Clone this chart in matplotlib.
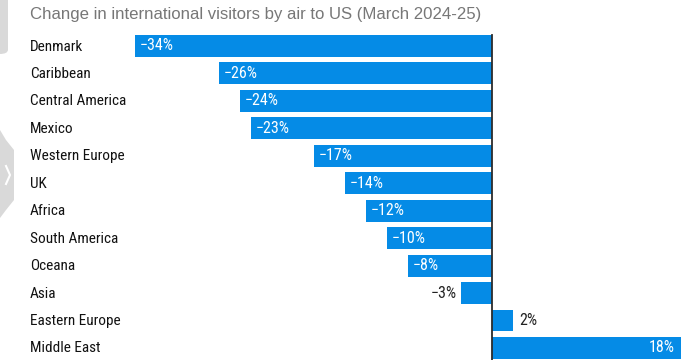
import matplotlib
matplotlib.use('Agg')
from matplotlib import pyplot as plt
from matplotlib import transforms, font_manager
from matplotlib.patches import FancyBboxPatch, Polygon

regions = ['Denmark', 'Caribbean', 'Central America', 'Mexico', 'Western Europe', 'UK',
           'Africa', 'South America', 'Oceana', 'Asia', 'Eastern Europe', 'Middle East']
changes = [-34, -26, -24, -23, -17, -14, -12, -10, -8, -3, 2, 18]
labels = ['\u221234%', '\u221226%', '\u221224%', '\u221223%', '\u221217%', '\u221214%',
          '\u221212%', '\u221210%', '\u22128%', '\u22123%', '2%', '18%']
title = 'Change in international visitors by air to US (March 2024-25)'

bar_color = '#058be6'


def pick_narrow():
    '''找一个窄体字体，没有就退回 DejaVu Sans'''
    fonts = font_manager.fontManager.ttflist
    names = {f.name for f in fonts}
    for n in ['Liberation Sans Narrow', 'Roboto Condensed', 'Noto Sans Condensed',
              'Open Sans Condensed', 'DejaVu Sans Condensed', 'Arial Narrow']:
        if n in names:
            return n, 'normal'
    for f in fonts:
        st = str(f.stretch)
        if ('condensed' in st or st in ('75', '62.5', '87.5')) and 'Mono' not in f.name \
                and 'Serif' not in f.name and 'CJK' not in f.name:
            return f.name, f.stretch
    return 'DejaVu Sans', 'normal'


narrow_name, narrow_stretch = pick_narrow()
narrow = dict(family=[narrow_name, 'DejaVu Sans'], stretch=narrow_stretch)

W, H = 700, 360
fig = plt.figure(figsize=(7, 3.6), dpi=100)

# axes placed so zero sits at x=492 px, ~10.5 px per percent
px_per = 10.5
zero_px = 492
left_px = 124.5
ax = fig.add_axes([left_px / W, 0, (W - left_px) / W, (360 - 32) / H])
ax.set_xlim((left_px - zero_px) / px_per, (W - zero_px) / px_per)
step = 27.45
ax.set_ylim((360 - 46) / step, (32 - 46) / step)
ax.axis('off')

ypos = list(range(len(regions)))
ax.barh(ypos, changes, height=0.8, color=bar_color, zorder=2)
ax.plot([0, 0], [-0.4, (360 - 46) / step], color='#2b2b2b', lw=1.3, zorder=3, clip_on=False)

off = transforms.offset_copy
for y, v, lab in zip(ypos, changes, labels):
    if v <= -5:
        ax.text(v, y, lab, transform=off(ax.transData, fig=fig, x=5, y=0, units='dots'),
                ha='left', va='center', color='white', fontsize=11.5, **narrow)
    elif v < 0:
        ax.text(v, y, lab, transform=off(ax.transData, fig=fig, x=-4, y=0, units='dots'),
                ha='right', va='center', color='#222222', fontsize=11.5, **narrow)
    elif v < 5:
        ax.text(v, y, lab, transform=off(ax.transData, fig=fig, x=6, y=0, units='dots'),
                ha='left', va='center', color='#222222', fontsize=11.5, **narrow)
    else:
        ax.text(v, y, lab, transform=off(ax.transData, fig=fig, x=-6, y=0, units='dots'),
                ha='right', va='center', color='white', fontsize=11.5, **narrow)

# category names
tr = transforms.blended_transform_factory(fig.transFigure, ax.transData)
for y, name in zip(ypos, regions):
    ax.text(30 / W, y + 0.02, name, transform=tr, ha='left', va='center', color='#111111',
            fontsize=11, **narrow)

fig.text(30 / W, 1 - 15 / H, title, ha='left', va='center', color='#777777',
         fontsize=12.1, family=['Liberation Sans', 'DejaVu Sans'])

# grey page widgets on the left edge
fig.patches.append(FancyBboxPatch((-20 / W, 1 - 54 / H), 28 / W, 70 / H,
                                  boxstyle='round,pad=0,rounding_size=0.012',
                                  transform=fig.transFigure, fc='#d9d9d9', ec='none'))
tab = [(0, 1 - 130 / H), (6 / W, 1 - 140 / H), (14 / W, 1 - 150 / H), (14 / W, 1 - 200 / H),
       (6 / W, 1 - 210 / H), (0, 1 - 218 / H)]
fig.patches.append(Polygon(tab, closed=True, transform=fig.transFigure, fc='#d9d9d9', ec='none'))
fig.lines.append(plt.Line2D([6 / W, 10 / W, 6 / W], [1 - 166 / H, 1 - 175 / H, 1 - 184 / H],
                            transform=fig.transFigure, color='white', lw=1.5))

fig.savefig('out.png', dpi=100)
